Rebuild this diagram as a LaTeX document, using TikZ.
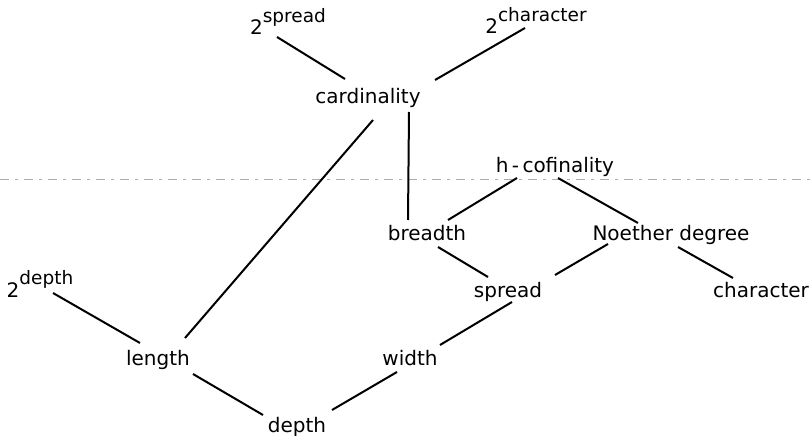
\documentclass[tikz,border=0pt]{standalone}
\usepackage{fontspec}
\setmainfont{DejaVu Sans}
\begin{document}
\begin{tikzpicture}[x=1pt,y=-1pt,
  lbl/.style={anchor=base,inner sep=0pt,font=\fontsize{20}{24}\selectfont},
  edge/.style={line width=2pt,black},
  foldline/.style={gray!65,line width=0.8pt,dash pattern=on 9pt off 6pt on 3pt off 6pt}]
\useasboundingbox (0,0) rectangle (812,436);
\newcommand{\pw}[1]{2\raisebox{0.62em}{\fontsize{18.5}{20}\selectfont #1}}
% horizontal fold line across the sheet
\coordinate (fl) at (0,179);
\coordinate (fr) at (812,179);
\draw[foldline] (fl) -- (fr);
% labels, placed by their baselines
\node[lbl] (s2)   at (288,35)  {\pw{spread}};
\node[lbl] (c2)   at (536,34)  {\pw{character}};
\node[lbl] (card) at (368,103) {cardinality};
\node[lbl] (hcof) at (555,172) {h\,-\,cofinality};
\node[lbl] (bre)  at (427,240) {breadth};
\node[lbl] (noe)  at (671,240) {Noether degree};
\node[lbl] (spr)  at (508,297) {spread};
\node[lbl] (chr)  at (761,297) {character};
\node[lbl] (d2)   at (40,297)  {\pw{depth}};
\node[lbl] (len)  at (158,365) {length};
\node[lbl] (wid)  at (410,365) {width};
\node[lbl] (dep)  at (297,432) {depth};
% order relations
\draw[edge] ([shift={(-11,2)}]s2.base)    -- ([shift={(-23,-24)}]card.base);
\draw[edge] ([shift={(-11,-6)}]c2.base)   -- ([shift={(67,-23)}]card.base);
\draw[edge] ([shift={(5,17)}]card.base)   -- ([shift={(27,-27)}]len.base);
\draw[edge] ([shift={(41,9)}]card.base)   -- ([shift={(-19,-20)}]bre.base);
\draw[edge] ([shift={(-38,6)}]hcof.base)  -- ([shift={(21,-20)}]bre.base);
\draw[edge] ([shift={(3,6)}]hcof.base)    -- ([shift={(-33,-17)}]noe.base);
\draw[edge] ([shift={(11,7)}]bre.base)    -- ([shift={(-20,-20)}]spr.base);
\draw[edge] ([shift={(-63,4)}]noe.base)   -- ([shift={(47,-22)}]spr.base);
\draw[edge] ([shift={(7,7)}]noe.base)     -- ([shift={(-28,-19)}]chr.base);
\draw[edge] ([shift={(4,5)}]spr.base)     -- ([shift={(30,-20)}]wid.base);
\draw[edge] ([shift={(13,-4)}]d2.base)    -- ([shift={(-18,-22)}]len.base);
\draw[edge] ([shift={(35,9)}]len.base)    -- ([shift={(-34,-17)}]dep.base);
\draw[edge] ([shift={(35,-22)}]dep.base)  -- ([shift={(-13,7)}]wid.base);
\end{tikzpicture}
\end{document}
